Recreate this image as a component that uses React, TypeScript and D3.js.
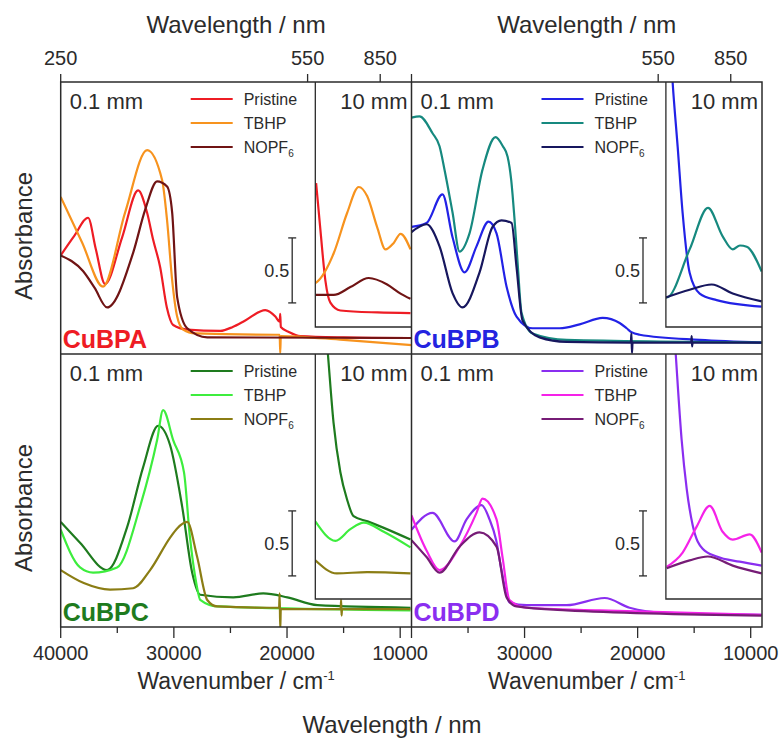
import React from 'react';
import * as d3 from 'd3';

type Pt = [number, number];

// wavenumber (cm-1), absorbance
const wavenumberMajor = [40000, 30000, 20000, 10000];
const wavenumberMinor = [35000, 25000, 15000];
const wavelengthTicks = [250, 550, 850];
const seriesNames = ['Pristine', 'TBHP', 'NOPF6'];

// CuBPA, 0.1 mm
const cubpaPristine: Pt[] = [[40000, 0.65], [38800, 0.80], [37580, 0.94], [36900, 0.70], [36080, 0.43], [34570, 0.79], [33160, 1.15], [32370, 0.98], [31830, 0.77], [31210, 0.56], [30620, 0.25], [30060, 0.115], [28820, 0.08], [25900, 0.07], [24800, 0.10], [23690, 0.15], [21920, 0.23], [21030, 0.18], [20650, 0.14], [20600, 0.20], [20550, 0.10], [19800, 0.06], [18830, 0.03], [15000, 0.02], [9000, 0.015]];
const cubpaTbhp: Pt[] = [[40000, 1.10], [38110, 0.75], [36260, 0.41], [34310, 0.98], [32360, 1.46], [31040, 1.23], [30600, 0.92], [30150, 0.46], [29710, 0.18], [29180, 0.08], [28110, 0.05], [21000, 0.04], [20650, 0.04], [20600, -0.1], [20550, 0.03], [15000, 0.0], [9000, -0.04]];
const cubpaNopf6: Pt[] = [[40000, 0.65], [38030, 0.53], [37000, 0.40], [35900, 0.25], [33600, 0.67], [32540, 1.0], [31480, 1.22], [30600, 1.18], [30150, 0.98], [29710, 0.33], [28820, 0.09], [27050, 0.02], [9000, 0.015]];
// CuBPA, 10 mm
const cubpaPristine10: Pt[] = [[17430, 1.03], [17050, 0.67], [16610, 0.28], [16170, 0.11], [15290, 0.05], [12000, 0.035], [9090, 0.03]];
const cubpaTbhp10: Pt[] = [[17500, 0.26], [17344, 0.27], [15875, 0.49], [14690, 0.80], [13660, 1.0], [12920, 0.93], [12030, 0.69], [11300, 0.52], [10570, 0.57], [9970, 0.64], [9090, 0.52]];
const cubpaNopf610: Pt[] = [[17500, 0.17], [15875, 0.17], [14400, 0.23], [12780, 0.30], [11150, 0.25], [9970, 0.18], [9090, 0.14]];

// CuBPB, 0.1 mm
const cubpbPristine: Pt[] = [[40000, 0.87], [38670, 0.90], [37260, 1.12], [36370, 0.79], [35310, 0.52], [34250, 0.72], [33190, 0.91], [32480, 0.82], [31590, 0.41], [30710, 0.18], [29290, 0.09], [26900, 0.09], [25130, 0.12], [23100, 0.17], [21590, 0.13], [20970, 0.09], [20550, 0.06], [19820, 0.04], [14510, 0.0], [9030, -0.02]];
const cubpbTbhp: Pt[] = [[40000, 1.71], [39290, 1.72], [38140, 1.59], [37520, 1.49], [37080, 1.31], [36370, 0.98], [35750, 0.68], [34870, 0.82], [33720, 1.31], [32570, 1.56], [31920, 1.49], [31500, 1.41], [31180, 1.23], [30880, 0.92], [30590, 0.56], [30270, 0.21], [29290, 0.05], [26280, 0.0], [9030, -0.02]];
const cubpbNopf6: Pt[] = [[40000, 0.83], [38670, 0.89], [37520, 0.72], [36370, 0.36], [35490, 0.25], [33980, 0.52], [32830, 0.87], [32040, 0.92], [31150, 0.90], [30710, 0.56], [30180, 0.15], [28670, 0.02], [26280, -0.015], [20600, -0.02], [20550, 0.05], [20500, -0.1], [20450, -0.02], [15260, -0.02], [15220, 0.03], [15180, -0.05], [15140, -0.02], [9030, -0.02]];
// CuBPB, 10 mm
const cubpbPristine10: Pt[] = [[17300, 2.4], [16900, 1.8], [16460, 1.31], [16020, 0.80], [15400, 0.34], [14510, 0.18], [13010, 0.13], [9030, 0.08]];
const cubpbTbhp10: Pt[] = [[17520, 0.15], [17430, 0.15], [15400, 0.52], [13780, 0.84], [12480, 0.62], [11590, 0.52], [10950, 0.55], [10350, 0.54], [9030, 0.35]];
const cubpbNopf610: Pt[] = [[17520, 0.15], [15400, 0.21], [13450, 0.25], [11590, 0.18], [9030, 0.12]];

// CuBPC, 0.1 mm
const cubpcPristine: Pt[] = [[40000, 0.70], [38290, 0.54], [35900, 0.33], [34130, 0.66], [32720, 1.12], [31390, 1.44], [30330, 1.29], [29270, 0.82], [28380, 0.31], [27670, 0.14], [24750, 0.12], [22100, 0.15], [19970, 0.12], [17320, 0.06], [9090, 0.04]];
const cubpcTbhp: Pt[] = [[40000, 0.64], [38290, 0.35], [37140, 0.31], [35020, 0.35], [32980, 0.82], [31480, 1.33], [30950, 1.56], [30060, 1.33], [29100, 1.08], [28600, 0.60], [28000, 0.22], [27670, 0.10], [26170, 0.05], [9090, 0.02]];
const cubpcNopf6: Pt[] = [[40000, 0.33], [37960, 0.23], [35640, 0.18], [33600, 0.19], [32100, 0.33], [30330, 0.58], [29710, 0.65], [28820, 0.70], [27940, 0.43], [27050, 0.10], [26170, 0.05], [20700, 0.04], [20650, 0.15], [20600, -0.13], [20550, 0.03], [15260, 0.03], [15220, 0.10], [15180, -0.02], [15140, 0.03], [9090, 0.03]];
// CuBPC, 10 mm
const cubpcPristine10: Pt[] = [[16860, 2.3], [16400, 1.82], [15890, 1.28], [15290, 0.90], [14700, 0.69], [14120, 0.56], [12880, 0.52], [11450, 0.47], [9090, 0.38]];
const cubpcTbhp10: Pt[] = [[17500, 0.52], [15720, 0.37], [14400, 0.46], [13220, 0.51], [11450, 0.44], [9090, 0.32]];
const cubpcNopf610: Pt[] = [[17500, 0.22], [15600, 0.12], [12920, 0.13], [9090, 0.12]];

// CuBPD, 0.1 mm
const cubpdPristine: Pt[] = [[40000, 0.64], [38140, 0.77], [36190, 0.55], [35130, 0.72], [33800, 0.83], [33100, 0.72], [32510, 0.56], [32040, 0.33], [31330, 0.08], [29820, 0.06], [26280, 0.06], [22920, 0.115], [20710, 0.04], [17430, 0.0], [9030, -0.015]];
const cubpdTbhp: Pt[] = [[40000, 0.75], [38670, 0.48], [37520, 0.33], [35750, 0.51], [34250, 0.77], [33720, 0.88], [32480, 0.72], [31950, 0.43], [31330, 0.10], [29820, 0.04], [23360, 0.02], [9030, -0.015]];
const cubpdNopf6: Pt[] = [[40000, 0.56], [38670, 0.43], [37520, 0.31], [35750, 0.51], [33980, 0.62], [32480, 0.51], [31590, 0.12], [30710, 0.05], [26280, 0.02], [9030, -0.02]];
// CuBPD, 10 mm
const cubpdPristine10: Pt[] = [[17000, 2.3], [16640, 1.82], [16110, 1.15], [15660, 0.77], [15130, 0.49], [14250, 0.31], [13010, 0.25], [10970, 0.21], [9030, 0.18]];
const cubpdTbhp10: Pt[] = [[17430, 0.17], [16020, 0.28], [14780, 0.48], [13630, 0.64], [12480, 0.44], [11590, 0.38], [10090, 0.42], [9030, 0.28]];
const cubpdNopf610: Pt[] = [[17430, 0.16], [15400, 0.22], [13800, 0.25], [11590, 0.18], [9030, 0.12]];

const FONT = '"Liberation Sans", Arial, Helvetica, sans-serif';
const INK = '#2b2b2b';

const panels = [
  { id: 'a', name: 'CuBPA', col: 0, row: 0, nameColor: '#ee1c24', colors: ['#ee1c24', '#f7931e', '#701414'],
    main: [cubpaPristine, cubpaTbhp, cubpaNopf6], inset: [cubpaPristine10, cubpaTbhp10, cubpaNopf610] },
  { id: 'b', name: 'CuBPB', col: 1, row: 0, nameColor: '#2424e0', colors: ['#2222e6', '#16897f', '#17175e'],
    main: [cubpbPristine, cubpbTbhp, cubpbNopf6], inset: [cubpbPristine10, cubpbTbhp10, cubpbNopf610] },
  { id: 'c', name: 'CuBPC', col: 0, row: 1, nameColor: '#1e7b1e', colors: ['#1e7b1e', '#3ded3d', '#8b7d14'],
    main: [cubpcPristine, cubpcTbhp, cubpcNopf6], inset: [cubpcPristine10, cubpcTbhp10, cubpcNopf610] },
  { id: 'd', name: 'CuBPD', col: 1, row: 1, nameColor: '#8a2ef0', colors: ['#8a2ef0', '#f522e8', '#761c76'],
    main: [cubpdPristine, cubpdTbhp, cubpdNopf6], inset: [cubpdPristine10, cubpdTbhp10, cubpdNopf610] },
];

const colEdges = [60.7, 411.5, 762];
const rowEdges = [82, 354, 627];

function Panel({ p }: { p: typeof panels[number] }) {
  const x0 = colEdges[p.col], x1 = colEdges[p.col + 1];
  const y0 = rowEdges[p.row], y1 = rowEdges[p.row + 1];
  const x = d3.scaleLinear().domain([40000, 9000]).range([x0, x1]);
  const y = d3.scaleLinear().domain([-0.108, -0.108 + (y1 - y0) / 130]).range([y1, y0]);
  const insetLeft = x(17500);
  const insetBottom = y0 + 245;
  const yi = d3.scaleLinear().domain([-0.077, -0.077 + (insetBottom - y0) / 130]).range([insetBottom, y0]);
  const line = d3.line<Pt>().x(d => x(d[0])).y(d => y(d[1])).curve(d3.curveMonotoneX);
  const lineI = d3.line<Pt>().x(d => x(d[0])).y(d => yi(d[1])).curve(d3.curveMonotoneX);
  const barX = x0 + 231.5;
  const barTop = y(0.785), barBot = y(0.285);

  return (
    <g>
      <defs>
        <clipPath id={`clip-${p.id}`}><rect x={x0} y={y0} width={x1 - x0} height={y1 - y0} /></clipPath>
        <clipPath id={`clipi-${p.id}`}><rect x={insetLeft} y={y0} width={x1 - insetLeft} height={insetBottom - y0} /></clipPath>
      </defs>
      <g clipPath={`url(#clip-${p.id})`}>
        {p.main.map((s, i) => (
          <path key={i} d={line(s) ?? ''} fill="none" stroke={p.colors[i]} strokeWidth={2.2} strokeLinejoin="round" />
        ))}
      </g>
      <rect x={insetLeft} y={y0} width={x1 - insetLeft} height={insetBottom - y0} fill="#fff" />
      <g clipPath={`url(#clipi-${p.id})`}>
        {p.inset.map((s, i) => (
          <path key={i} d={lineI(s) ?? ''} fill="none" stroke={p.colors[i]} strokeWidth={2.2} strokeLinejoin="round" />
        ))}
      </g>
      <path d={`M${insetLeft},${y0}V${insetBottom}H${x1}`} fill="none" stroke={INK} strokeWidth={1.3} />

      {/* legend */}
      {seriesNames.map((n, i) => {
        const ly = y0 + 17 + i * 24;
        return (
          <g key={n}>
            <line x1={x0 + 130} x2={x0 + 172} y1={ly} y2={ly} stroke={p.colors[i]} strokeWidth={2.2} />
            <text x={x0 + 183} y={ly + 6} fontSize={16} fill={INK} fontFamily={FONT}>
              {n === 'NOPF6' ? <>NOPF<tspan fontSize={10} dy={4}>6</tspan></> : n}
            </text>
          </g>
        );
      })}

      <text x={x0 + 9} y={y0 + 27} fontSize={22} fill={INK} fontFamily={FONT}>0.1 mm</text>
      <text x={x1 - 4} y={y0 + 27} fontSize={22} fill={INK} fontFamily={FONT} textAnchor="end">10 mm</text>

      {/* 0.5 absorbance scale bar */}
      <g stroke={INK} strokeWidth={1.3}>
        <line x1={barX} x2={barX} y1={barTop} y2={barBot} />
        <line x1={barX - 4} x2={barX + 4} y1={barTop} y2={barTop} />
        <line x1={barX - 4} x2={barX + 4} y1={barBot} y2={barBot} />
      </g>
      <text x={barX - 3} y={(barTop + barBot) / 2 + 7} fontSize={18} fill={INK} fontFamily={FONT} textAnchor="end">0.5</text>

      <text x={x0 + 2} y={y1 - 6} fontSize={25} fontWeight="bold" fill={p.nameColor} fontFamily={FONT}>{p.name}</text>
    </g>
  );
}

function Axes() {
  const out: React.ReactNode[] = [];
  [0, 1].forEach(col => {
    const x0 = colEdges[col], x1 = colEdges[col + 1];
    const x = d3.scaleLinear().domain([40000, 9000]).range([x0, x1]);
    const cx = (x0 + x1) / 2;
    // top wavelength axis
    wavelengthTicks.forEach(wl => {
      const tx = x(1e7 / wl);
      out.push(<line key={`tt${col}${wl}`} x1={tx} x2={tx} y1={rowEdges[0]} y2={rowEdges[0] - 8} stroke={INK} strokeWidth={1.3} />);
      if (!(col === 1 && wl === 250)) {
        out.push(<text key={`tl${col}${wl}`} x={tx} y={65} fontSize={20} textAnchor="middle" fill={INK} fontFamily={FONT}>{wl}</text>);
      }
    });
    out.push(<text key={`wt${col}`} x={cx} y={33} fontSize={24} textAnchor="middle" fill={INK} fontFamily={FONT}>Wavelength / nm</text>);
    // bottom wavenumber axis
    wavenumberMajor.forEach(wn => {
      const tx = x(wn);
      out.push(<line key={`bt${col}${wn}`} x1={tx} x2={tx} y1={rowEdges[2]} y2={rowEdges[2] + 11} stroke={INK} strokeWidth={1.3} />);
      if (!(col === 1 && wn === 40000)) {
        out.push(<text key={`bl${col}${wn}`} x={tx} y={660} fontSize={20} textAnchor="middle" fill={INK} fontFamily={FONT}>{wn}</text>);
      }
    });
    wavenumberMinor.forEach(wn => {
      const tx = x(wn);
      out.push(<line key={`bm${col}${wn}`} x1={tx} x2={tx} y1={rowEdges[2]} y2={rowEdges[2] + 6} stroke={INK} strokeWidth={1.3} />);
    });
    out.push(
      <text key={`wn${col}`} x={cx} y={689} fontSize={23} textAnchor="middle" fill={INK} fontFamily={FONT}>
        Wavenumber / cm<tspan fontSize={13} dy={-9}>-1</tspan>
      </text>
    );
  });
  [0, 1].forEach(row => {
    const cy = rowEdges[row] + 154;
    out.push(
      <text key={`ab${row}`} transform={`translate(32,${cy}) rotate(-90)`} fontSize={24} textAnchor="middle" fill={INK} fontFamily={FONT}>Absorbance</text>
    );
  });
  return <g>{out}</g>;
}

export default function App() {
  return (
    <svg width={780} height={739} style={{ position: 'absolute', left: 0, top: 0, background: '#fff' }}>
      <rect width={780} height={739} fill="#fff" />
      {panels.map(p => <Panel key={p.id} p={p} />)}
      <g fill="none" stroke={INK} strokeWidth={1.5}>
        <rect x={colEdges[0]} y={rowEdges[0]} width={colEdges[2] - colEdges[0]} height={rowEdges[2] - rowEdges[0]} />
        <line x1={colEdges[1]} x2={colEdges[1]} y1={rowEdges[0]} y2={rowEdges[2]} />
        <line x1={colEdges[0]} x2={colEdges[2]} y1={rowEdges[1]} y2={rowEdges[1]} />
      </g>
      <Axes />
      <text x={392} y={733} fontSize={24} textAnchor="middle" fill={INK} fontFamily={FONT}>Wavelength / nm</text>
    </svg>
  );
}
